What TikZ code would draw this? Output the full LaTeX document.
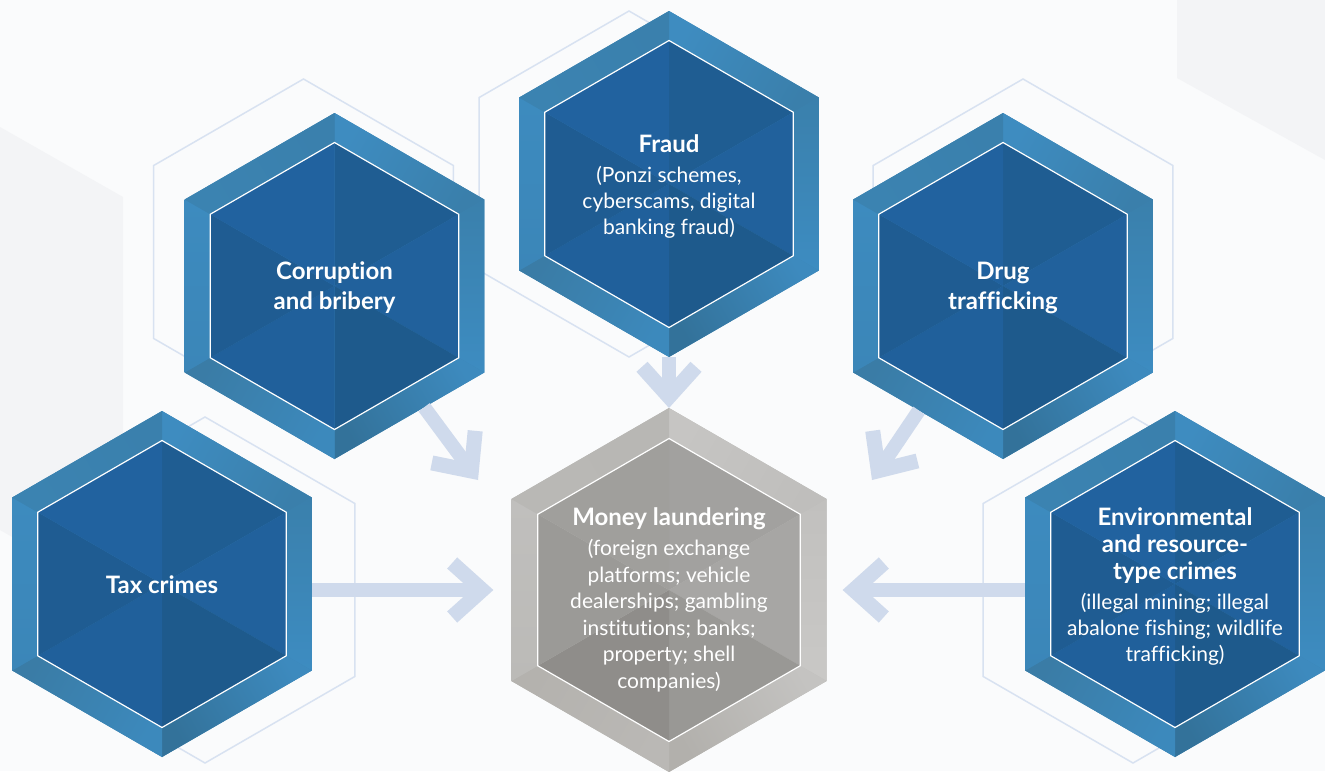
\documentclass[tikz,border=0pt]{standalone}
\usepackage{fontspec}
\setmainfont{Lato}[Ligatures=NoCommon]
\usetikzlibrary{arrows.meta,shapes.geometric}
\usepackage{xcolor}
\definecolor{PageTint}{HTML}{FAFBFC}
\definecolor{PageShade}{HTML}{F3F4F6}
\definecolor{GhostBlue}{HTML}{D8E2F1}
\definecolor{FlowBlue}{HTML}{CFDAEC}
% blue bevel faces (clockwise from the top vertex) and inner triangles
\definecolor{bluebase}{HTML}{3B85B6}
\definecolor{b1a}{HTML}{3E8CC0}\definecolor{b1b}{HTML}{3A7FAB}\definecolor{bt1}{HTML}{1F5D92}
\definecolor{b2a}{HTML}{3A80AC}\definecolor{b2b}{HTML}{3D8CC1}\definecolor{bt2}{HTML}{21619C}
\definecolor{b3a}{HTML}{3D8ABE}\definecolor{b3b}{HTML}{33729A}\definecolor{bt3}{HTML}{1E5A8C}
\definecolor{b4a}{HTML}{3C89BC}\definecolor{b4b}{HTML}{3A7CA6}\definecolor{bt4}{HTML}{20609B}
\definecolor{b5a}{HTML}{3B86B8}\definecolor{b5b}{HTML}{3D8BBF}\definecolor{bt5}{HTML}{1F5C92}
\definecolor{b6a}{HTML}{3B83B1}\definecolor{b6b}{HTML}{3A80AD}\definecolor{bt6}{HTML}{21629F}
% grey bevel faces and inner triangles
\definecolor{greybase}{HTML}{BEBDBA}
\definecolor{g1a}{HTML}{C6C5C3}\definecolor{g1b}{HTML}{BFBEBC}\definecolor{gt1}{HTML}{A2A19F}
\definecolor{g2a}{HTML}{C1C0BE}\definecolor{g2b}{HTML}{C9C8C6}\definecolor{gt2}{HTML}{A7A6A4}
\definecolor{g3a}{HTML}{C4C3C1}\definecolor{g3b}{HTML}{B2B0AC}\definecolor{gt3}{HTML}{999895}
\definecolor{g4a}{HTML}{BAB8B5}\definecolor{g4b}{HTML}{B4B2AE}\definecolor{gt4}{HTML}{8F8D8A}
\definecolor{g5a}{HTML}{BBBAB7}\definecolor{g5b}{HTML}{C0BFBD}\definecolor{gt5}{HTML}{9B9A97}
\definecolor{g6a}{HTML}{B9B8B5}\definecolor{g6b}{HTML}{B8B7B4}\definecolor{gt6}{HTML}{A09F9C}
% polar angles (y points down): -90 is the top vertex
\def\bluepal{-90/b1a/b1b/bt1, -30/b2a/b2b/bt2, 30/b3a/b3b/bt3, 90/b4a/b4b/bt4, 150/b5a/b5b/bt5, 210/b6a/b6b/bt6}
\def\greypal{-90/g1a/g1b/gt1, -30/g2a/g2b/gt2, 30/g3a/g3b/gt3, 90/g4a/g4b/gt4, 150/g5a/g5b/gt5, 210/g6a/g6b/gt6}
\tikzset{
  hexnode/.style={regular polygon, regular polygon sides=6, shape border rotate=30,
    minimum size=346pt, inner sep=0pt, outer sep=0pt},
  bighexnode/.style={hexnode, minimum size=364pt},
  ghosthex/.style={hexnode, draw=GhostBlue, line width=1.5pt},
  hexrim/.style={draw=white, line width=1.2pt, line join=miter},
  crimetext/.style={text=white, align=center, inner sep=0pt,
    font=\fontsize{21}{26}\selectfont},
  flow/.style={draw=FlowBlue, line width=14pt,
    -{Straight Barb[length=30pt, width=54pt, line width=15pt]}}
}
\newcommand\ttl[1]{{\fontsize{24}{28}\selectfont\bfseries #1}}
% bevelled hexagon round a named node: node, outer radius, inner radius, palette, base colour
\newcommand\crimehex[5]{%
  \begin{scope}[shift={(#1.center)}]
    \fill[#5] (30:#2) -- (90:#2) -- (150:#2) -- (210:#2) -- (270:#2) -- (330:#2) -- cycle;
    \foreach \ang/\ca/\cb/\ct in #4 {
      \pgfmathsetmacro\sang{-\ang-30}
      \shade[left color=\ca, right color=\cb, shading angle=\sang]
        (\ang:#2) -- (\ang+60:#2) -- (\ang+60:#3) -- (\ang:#3) -- cycle;
      \fill[\ct] (0,0) -- (\ang:#3) -- (\ang+60:#3) -- cycle;
    }
    \draw[hexrim] (30:#3) -- (90:#3) -- (150:#3) -- (210:#3) -- (270:#3) -- (330:#3) -- cycle;
  \end{scope}}
\begin{document}
\begin{tikzpicture}[x=1pt, y=-1pt]
  \useasboundingbox (0,0) rectangle (1325,771);
  % background
  \fill[PageTint] (0,0) rectangle (1325,771);
  \fill[PageShade] (0,127) -- (123,197) -- (123,600) -- (0,530) -- cycle;
  \fill[PageShade] (1177,0) -- (1325,0) -- (1325,160) -- (1177,78) -- cycle;

  % faint outlines behind the cells
  \node[ghosthex] (corrghost) at (303.5,252) {};
  \node[ghosthex] (fraudghost) at (629,184) {};
  \node[ghosthex] (drugghost) at (1023,252) {};
  \node[ghosthex] (taxghost) at (205,590) {};
  \node[ghosthex] (envghost) at (1133,590) {};

  % cells
  \node[hexnode] (corr) at (334.5,286) {};
  \node[hexnode] (fraud) at (669,184) {};
  \node[hexnode] (drug) at (1003,286) {};
  \node[hexnode] (tax) at (162,584) {};
  \node[hexnode] (env) at (1175,584) {};
  \node[bighexnode] (ml) at (669,590) {};
  \crimehex{corr}{173}{143.5}{\bluepal}{bluebase}
  \crimehex{fraud}{173}{143.5}{\bluepal}{bluebase}
  \crimehex{drug}{173}{143.5}{\bluepal}{bluebase}
  \crimehex{tax}{173}{143.5}{\bluepal}{bluebase}
  \crimehex{env}{173}{143.5}{\bluepal}{bluebase}
  \crimehex{ml}{182}{151.5}{\greypal}{greybase}

  % texts
  \node[crimetext] (corrtext) at (334.5,287.5) {\ttl{Corruption}\\[4pt]\ttl{and bribery}};
  \node[crimetext] (fraudtext) at (669,186.3) {\ttl{Fraud}\\[4.5pt](Ponzi schemes,\\cyberscams, digital\\banking fraud)};
  \node[crimetext] (drugtext) at (1003,288) {\ttl{Drug}\\[4pt]\ttl{trafficking}};
  \node[crimetext] (taxtext) at (162,585) {\ttl{Tax crimes}};
  \node[crimetext, font=\fontsize{21}{26.6}\selectfont] (mltext) at (669,600)
    {\ttl{Money laundering}\\[3pt](foreign exchange\\platforms; vehicle\\dealerships; gambling\\institutions; banks;\\property; shell\\companies)};
  \node[crimetext] (envtext) at (1175,586) {\ttl{Environmental}\\[1pt]\ttl{and resource-}\\[1pt]\ttl{type crimes}\\[4pt](illegal mining; illegal\\abalone fishing; wildlife\\trafficking)};

  % arrows into money laundering
  \coordinate (corrtip) at (478,480);
  \coordinate (drugtip) at (872,480);
  \draw[flow] (fraud) -- (ml);
  \draw[flow] (corr) -- (corrtip);
  \draw[flow] (drug) -- (drugtip);
  \draw[flow, shorten >=18pt] (tax.east |- ml) -- (ml.west);
  \draw[flow, shorten >=16pt] (env.west |- ml) -- (ml.east);
\end{tikzpicture}
\end{document}
